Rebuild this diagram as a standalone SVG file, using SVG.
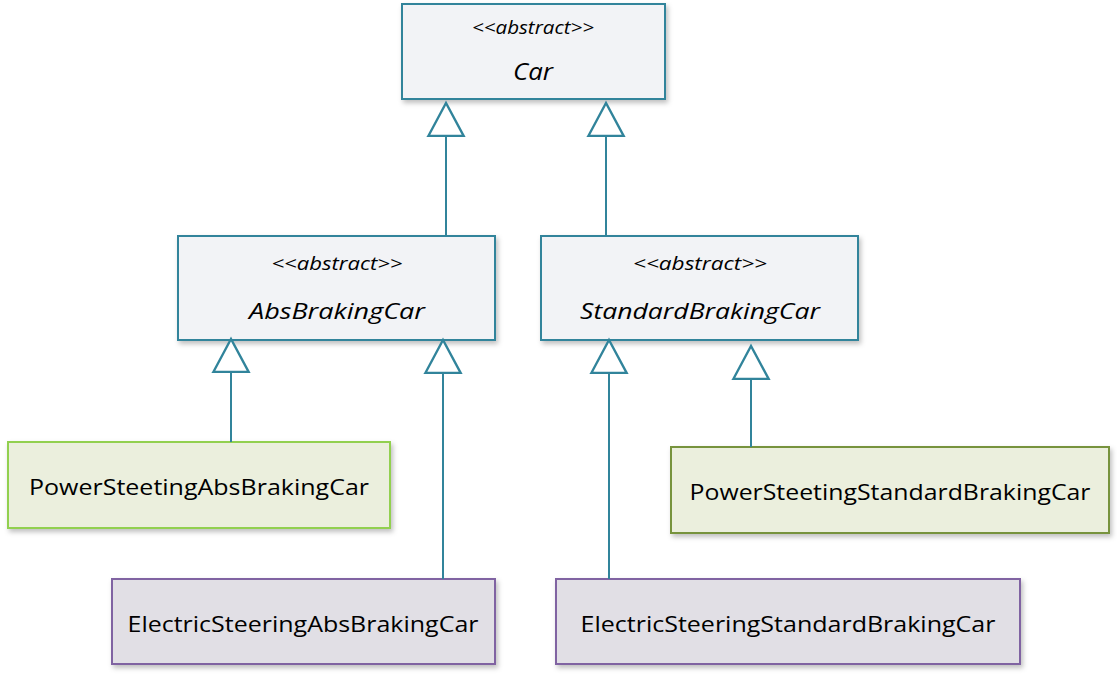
<svg xmlns="http://www.w3.org/2000/svg" width="1117" height="676" viewBox="0 0 1117 676">
<style>
.box{stroke-width:2}
.abs{fill:#F2F3F6;stroke:#31849B}
.pw1{fill:#EBEFDD;stroke:#92D050}
.pw2{fill:#EBEFDD;stroke:#77933C}
.el{fill:#E1DFE5;stroke:#8064A2}
text{font-family:"Open Sans","Liberation Sans",sans-serif;fill:#000;text-anchor:middle}
.st{font-style:italic;font-size:19px}
.nm{font-style:italic;font-size:22px}
.cn{font-size:21px}
.conn line{stroke:#31849B;stroke-width:2;marker-end:url(#gen)}
</style>
<defs>
<filter id="sh" x="-10%" y="-10%" width="130%" height="140%">
<feDropShadow dx="2" dy="3" stdDeviation="2.5" flood-color="#000" flood-opacity="0.25"/>
</filter>
<marker id="gen" markerUnits="userSpaceOnUse" markerWidth="40" markerHeight="40" viewBox="-2 -2 34 34" refX="28" refY="15" orient="auto" overflow="visible">
<path d="M0,0 L28,15 L0,30 Z" fill="#fff" stroke="#31849B" stroke-width="2"/>
</marker>
</defs>
<rect width="1117" height="676" fill="#fff"/>
<g id="car">
<rect class="box abs" x="402" y="4" width="263" height="95" filter="url(#sh)"/>
<text class="st" x="533" y="34" textLength="122" lengthAdjust="spacingAndGlyphs">&lt;&lt;abstract&gt;&gt;</text>
<text class="nm" x="533" y="80" style="font-size:24px" textLength="40" lengthAdjust="spacingAndGlyphs">Car</text>
</g>
<g id="absBrakingCar">
<rect class="box abs" x="178" y="236" width="317" height="104" filter="url(#sh)"/>
<text class="st" x="337" y="270" textLength="131" lengthAdjust="spacingAndGlyphs">&lt;&lt;abstract&gt;&gt;</text>
<text class="nm" x="337" y="319" textLength="176" lengthAdjust="spacingAndGlyphs">AbsBrakingCar</text>
</g>
<g id="standardBrakingCar">
<rect class="box abs" x="541" y="236" width="317" height="104" filter="url(#sh)"/>
<text class="st" x="700" y="270" textLength="134" lengthAdjust="spacingAndGlyphs">&lt;&lt;abstract&gt;&gt;</text>
<text class="nm" x="700" y="319" textLength="240" lengthAdjust="spacingAndGlyphs">StandardBrakingCar</text>
</g>
<g id="powerSteetingAbsBrakingCar">
<rect class="box pw1" x="8" y="442" width="382" height="86" filter="url(#sh)"/>
<text class="cn" x="199" y="495" textLength="340" lengthAdjust="spacingAndGlyphs">PowerSteetingAbsBrakingCar</text>
</g>
<g id="electricSteeringAbsBrakingCar">
<rect class="box el" x="112" y="579" width="383" height="85" filter="url(#sh)"/>
<text class="cn" x="303" y="632" textLength="351" lengthAdjust="spacingAndGlyphs">ElectricSteeringAbsBrakingCar</text>
</g>
<g id="powerSteetingStandardBrakingCar">
<rect class="box pw2" x="671" y="447" width="438" height="86" filter="url(#sh)"/>
<text class="cn" x="890" y="500" textLength="401" lengthAdjust="spacingAndGlyphs">PowerSteetingStandardBrakingCar</text>
</g>
<g id="electricSteeringStandardBrakingCar">
<rect class="box el" x="556" y="579" width="464" height="85" filter="url(#sh)"/>
<text class="cn" x="788" y="632" textLength="415" lengthAdjust="spacingAndGlyphs">ElectricSteeringStandardBrakingCar</text>
</g>
<g id="connectors" class="conn">
<line x1="446" y1="236" x2="446" y2="103"/>
<line x1="606" y1="236" x2="606" y2="103"/>
<line x1="231" y1="442" x2="231" y2="339"/>
<line x1="443" y1="579" x2="443" y2="340"/>
<line x1="609" y1="579" x2="609" y2="340"/>
<line x1="751" y1="447" x2="751" y2="346"/>
</g>
</svg>
